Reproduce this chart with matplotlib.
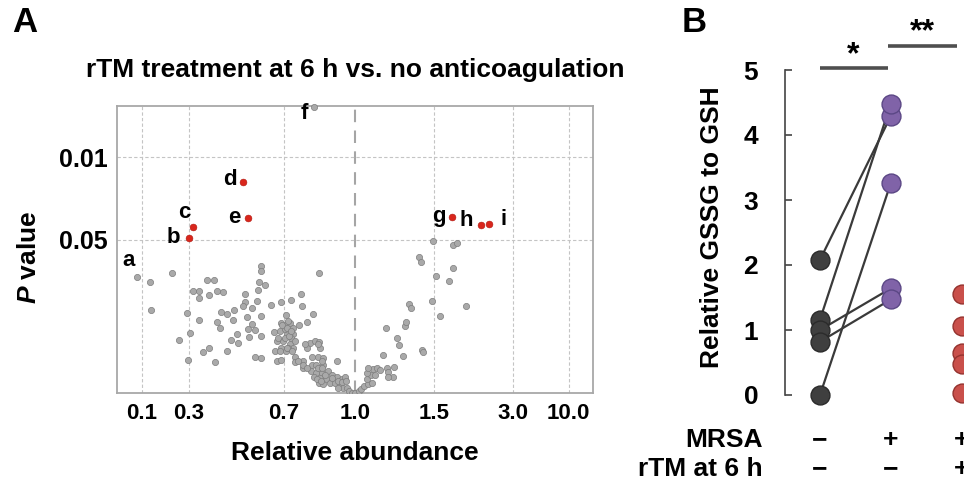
import numpy as np
import matplotlib
matplotlib.use("Agg")
import matplotlib.pyplot as plt
import matplotlib.transforms as mtransforms

plt.rcParams['font.family'] = ['Liberation Sans', 'DejaVu Sans']
plt.rcParams['font.weight'] = 'bold'
plt.rcParams['mathtext.fontset'] = 'custom'
plt.rcParams['mathtext.rm'] = 'Liberation Sans:bold'
plt.rcParams['mathtext.it'] = 'Liberation Sans:italic:bold'

# ---------------- Panel A data: log10(relative abundance), -log10(P) ----------------
grey_lx = [-0.916, -0.691, -0.909, -0.546, -0.620, -0.519, -0.530, -0.485, -0.454, -0.426,
           -0.509, -0.485, -0.485, -0.447, -0.416, -0.390, -0.304, -0.244, -0.244, -0.250,
           -0.229, -0.255, -0.304, -0.312, -0.278, -0.260, -0.203, -0.164, -0.138, -0.118,
           -0.115, -0.079, -0.397, -0.374, -0.348, -0.351, -0.413, -0.403, -0.467, -0.444,
           -0.423, -0.377, -0.358, -0.338, -0.333, -0.299, -0.294, -0.278, -0.265, -0.244,
           -0.242, -0.291, -0.265, -0.244, -0.150, -0.167, -0.148, -0.141, -0.193, -0.169,
           -0.148, -0.134, -0.182, -0.156, -0.141, -0.167, -0.190, -0.182, -0.164, -0.150,
           -0.135, -0.121, -0.105, -0.091, -0.130, -0.130, -0.112, -0.113, -0.098, -0.086,
           -0.078, -0.076, -0.105, -0.094, -0.081, -0.069, -0.094, -0.084, -0.069, -0.040,
           -0.095, -0.085, -0.072, -0.058, -0.089, -0.076, -0.062, -0.050, -0.040, -0.029,
           -0.021, -0.079, -0.069, -0.055, -0.043, -0.033, -0.026, -0.017, -0.014, -0.007,
           0.001, 0.008, 0.013, 0.020, 0.029, 0.038, 0.026, 0.036, 0.045, 0.027,
           0.041, 0.048, 0.030, 0.056, 0.071, 0.087, 0.074, 0.085, 0.074, 0.062,
           0.093, 0.097, 0.108, 0.068, 0.111, 0.114, 0.121, 0.124, 0.149, 0.152,
           0.172, 0.199, 0.184, 0.234, 0.247, 0.297, 0.142, 0.148, 0.173, 0.248,
           0.263, -0.146, -0.135, -0.152, -0.138, -0.130, -0.145, -0.109, -0.080, -0.071,
           -0.123, -0.112, -0.104, -0.081, -0.072, -0.065, -0.083, -0.074, -0.051, -0.036,
           -0.029, -0.022, -0.019, -0.036, -0.160, -0.148, -0.176, -0.152, -0.143, -0.169,
           -0.148, -0.138, -0.136]
grey_nlp = [0.938, 1.020, 0.702, 0.679, 0.449, 0.511, 0.276, 0.617, 0.957, 0.957,
            0.867, 0.867, 0.810, 0.832, 0.867, 0.855, 0.844, 1.077, 1.031, 0.940,
            0.918, 0.872, 0.776, 0.736, 0.724, 0.781, 0.747, 0.776, 0.793, 0.838,
            0.736, 1.020, 0.690, 0.673, 0.702, 0.617, 0.599, 0.554, 0.349, 0.384,
            0.264, 0.355, 0.452, 0.497, 0.423, 0.645, 0.543, 0.582, 0.537, 0.656,
            0.486, 0.474, 0.304, 0.293, 0.662, 0.594, 0.582, 0.597, 0.514, 0.526,
            0.497, 0.497, 0.440, 0.440, 0.412, 0.384, 0.355, 0.270, 0.276, 0.355,
            0.378, 0.577, 0.602, 0.668, 0.304, 0.259, 0.270, 0.213, 0.426, 0.440,
            0.435, 0.384, 0.384, 0.304, 0.304, 0.298, 0.236, 0.241, 0.241, 0.270,
            0.185, 0.168, 0.168, 0.190, 0.134, 0.128, 0.122, 0.156, 0.139, 0.122,
            0.111, 0.088, 0.077, 0.082, 0.082, 0.071, 0.043, 0.043, 0.014, 0.003,
            0.003, 0.020, 0.037, 0.060, 0.077, 0.082, 0.122, 0.151, 0.156, 0.168,
            0.207, 0.213, 0.213, 0.196, 0.213, 0.219, 0.179, 0.139, 0.134, 0.321,
            0.463, 0.406, 0.310, 0.554, 0.571, 0.599, 0.753, 0.724, 0.366, 0.344,
            0.781, 0.656, 0.992, 0.952, 1.060, 0.736, 1.156, 1.111, 1.287, 1.259,
            1.276, 0.611, 0.554, 0.540, 0.469, 0.440, 0.384, 0.418, 0.412, 0.270,
            0.270, 0.236, 0.213, 0.213, 0.213, 0.156, 0.122, 0.099, 0.128, 0.105,
            0.094, 0.134, 0.099, 0.043, 0.577, 0.554, 0.469, 0.463, 0.483, 0.355,
            0.384, 0.526, 0.355]

labels = ['a', 'b', 'c', 'd', 'e', 'f', 'g', 'h', 'i']
lab_lx = [-1.050, -0.523, -0.507, -0.312, -0.294, -0.088, 0.243, 0.353, 0.386]
lab_nlp = [0.980, 1.318, 1.406, 1.790, 1.486, 2.430, 1.489, 1.426, 1.438]
lab_sig = [False, True, True, True, True, False, True, True, True]
lab_off = [(-6, 12), (-11, 0), (-6.5, 10.5), (-9.5, 2), (-9.5, 0), (-7, -5), (-9, 1), (-10, 3), (10, 3)]

tick_vals = [0.1, 0.3, 0.7, 1.0, 1.5, 3.0, 10.0]
tick_text = ['0.1', '0.3', '0.7', '1.0', '1.5', '3.0', '10.0']
tick_pos = [95, 237, 521, 735, 972, 1210, 1376]   # uneven axis spacing of the original

# ---------------- Panel B data ----------------
ctrl = [2.08, 1.16, 1.00, 0.82, 0.00]
mrsa = [4.29, 4.48, 1.64, 1.47, 3.26]
mrsa_rtm = [1.56, 1.06, 0.64, 0.47, 0.03]
row_mrsa = ['−', '+', '+']
row_rtm = ['−', '−', '+']

# piecewise log scale for the x axis
lt = np.log10(tick_vals)
LT = np.concatenate([[lt[0] - 3], lt, [lt[-1] + 3]])
TP = np.concatenate([[tick_pos[0] - 3 * 297.6], tick_pos, [tick_pos[-1] + 3 * 317.5]])


def fwd(v):
    return np.interp(v, LT, TP)


def inv(p):
    return np.interp(p, TP, LT)


fig = plt.figure(figsize=(9.64, 4.83), dpi=100)
W, H = 964, 483

axA = fig.add_axes([117 / W, 1 - 393 / H, 476 / W, 287 / H])
axA.set_xscale('function', functions=(fwd, inv))
axA.set_xlim(-1.249, 1.230)
axA.set_ylim(0, 2.435)

for v in lt:
    if v == 0:
        axA.axvline(v, color='#a5a5a5', lw=1.5, ls=(0, (6, 4)), zorder=1)
    else:
        axA.axvline(v, color='#c4c4c4', lw=0.8, ls=(0, (3, 2)), zorder=1)
for v in [2, -np.log10(0.05)]:
    axA.axhline(v, color='#c4c4c4', lw=0.8, ls=(0, (3, 2)), zorder=1)

axA.scatter(grey_lx, grey_nlp, s=20, c='#a9a9a9', edgecolors='#7d7d7d', linewidths=0.5, zorder=3)
for lab, x, y, sig, off in zip(labels, lab_lx, lab_nlp, lab_sig, lab_off):
    if sig:
        axA.scatter([x], [y], s=24, c='#d9261c', edgecolors='#b01810', linewidths=0.4, zorder=4, clip_on=False)
    else:
        axA.scatter([x], [y], s=20, c='#a9a9a9', edgecolors='#7d7d7d', linewidths=0.5, zorder=4, clip_on=False)
    axA.annotate(lab, (x, y), xytext=off, textcoords='offset points', ha='center', va='center',
                 fontsize=16, fontweight='bold')

axA.set_xticks(lt)
axA.set_xticklabels(tick_text)
axA.set_yticks([2, -np.log10(0.05)])
axA.set_yticklabels(['0.01', '0.05'])
axA.tick_params(axis='x', length=0, labelsize=16, pad=7)
axA.tick_params(axis='y', length=0, labelsize=18, pad=7)
for s in axA.spines.values():
    s.set_color('#a8a8a8')
    s.set_linewidth(1.3)

fig.text(355 / W, 1 - 70 / H, 'rTM treatment at 6 h vs. no anticoagulation', ha='center', va='center',
         fontsize=19, fontweight='bold')
fig.text(355 / W, 1 - 453 / H, 'Relative abundance', ha='center', va='center', fontsize=19, fontweight='bold')
fig.text(29 / W, 1 - 257 / H, '$P$ value', ha='center', va='center', rotation=90, fontsize=19, fontweight='bold')
fig.text(25 / W, 1 - 22 / H, 'A', ha='center', va='center', fontsize=25, fontweight='bold')
fig.text(694 / W, 1 - 22 / H, 'B', ha='center', va='center', fontsize=25, fontweight='bold')

# ---------------- Panel B ----------------
axB = fig.add_axes([784.6 / W, 1 - 395 / H, 212.4 / W, 325 / H])
axB.set_xlim(0.5, 3.5)
axB.set_ylim(0, 5)
for a, b in zip(ctrl, mrsa):
    axB.plot([1, 2], [a, b], color='#3a3a3a', lw=1.6, zorder=2)
ms = 185
axB.scatter([1] * len(ctrl), ctrl, s=ms, c='#3f3f3f', edgecolors='#2b2b2b', linewidths=1, zorder=3, clip_on=False)
axB.scatter([2] * len(mrsa), mrsa, s=ms, c='#8063a8', edgecolors='#5b4785', linewidths=1, zorder=3, clip_on=False)
axB.scatter([3] * len(mrsa_rtm), mrsa_rtm, s=ms, c='#c9504b', edgecolors='#94322e', linewidths=1, zorder=3,
            clip_on=False)

axB.plot([1, 1.96], [5.03, 5.03], color='#4f4f4f', lw=2.6, clip_on=False, solid_capstyle='butt')
axB.plot([1.96, 2.94], [5.37, 5.37], color='#4f4f4f', lw=2.6, clip_on=False, solid_capstyle='butt')
axB.text(1.47, 5.22, '*', ha='center', va='center', fontsize=23, fontweight='bold')
axB.text(2.45, 5.58, '**', ha='center', va='center', fontsize=23, fontweight='bold')

for s in ['top', 'right', 'bottom']:
    axB.spines[s].set_visible(False)
axB.spines['left'].set_color('#444444')
axB.spines['left'].set_linewidth(1.2)
axB.set_xticks([])
axB.set_yticks(range(6))
axB.tick_params(axis='y', direction='in', length=5, width=1.2, color='#444444', labelsize=19, pad=19)

fig.text(712 / W, 1 - 227 / H, 'Relative GSSG to GSH', ha='center', va='center', rotation=90,
         fontsize=19, fontweight='bold')

tr = mtransforms.blended_transform_factory(axB.transData, fig.transFigure)
fig.text(763 / W, 1 - 440 / H, 'MRSA', ha='right', va='center', fontsize=19, fontweight='bold')
fig.text(763 / W, 1 - 469 / H, 'rTM at 6 h', ha='right', va='center', fontsize=19, fontweight='bold')
for i, (m, r) in enumerate(zip(row_mrsa, row_rtm)):
    axB.text(i + 1, 1 - 440 / H, m, transform=tr, ha='center', va='center', fontsize=19, fontweight='bold')
    axB.text(i + 1, 1 - 469 / H, r, transform=tr, ha='center', va='center', fontsize=19, fontweight='bold')

fig.savefig('out.png', dpi=100, facecolor='white')
